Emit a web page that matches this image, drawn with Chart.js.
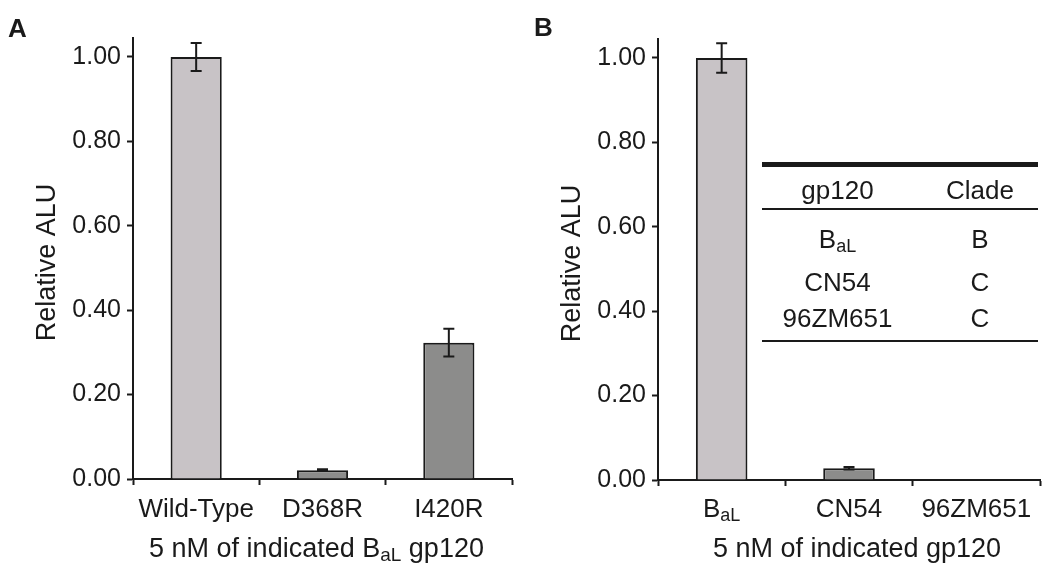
<!DOCTYPE html>
<html><head><meta charset="utf-8">
<script src="https://cdn.jsdelivr.net/npm/chart.js@4.4.0/dist/chart.umd.min.js"></script>
<style>
html,body{margin:0;padding:0;background:#fff;}
#wrap{position:relative;width:1050px;height:575px;font-family:"Liberation Sans",Arial,sans-serif;color:#1a1a1a;overflow:hidden;}
.cv{position:absolute;top:0;width:525px;height:575px;}
.letter{position:absolute;font-weight:bold;font-size:26px;line-height:30px;}
.tline{position:absolute;background:#1a1a1a;}
.tcell{position:absolute;width:170px;text-align:center;font-size:26px;line-height:30px;white-space:nowrap;}
.sub{font-size:18px;position:relative;top:4px;}
</style></head><body>
<div id="wrap">
  <div class="cv" style="left:0"><canvas id="cA" width="525" height="575"></canvas></div>
  <div class="cv" style="left:525px"><canvas id="cB" width="525" height="575"></canvas></div>
  <div class="letter" style="left:8px;top:13px;">A</div>
  <div class="letter" style="left:534px;top:12px;">B</div>
  <div id="table"></div>
</div>
<script>
// ---------- data ----------
const categoriesA = ['Wild-Type', 'D368R', 'I420R'];
const valuesA = [1.00, 0.021, 0.323];
const errorsA = [0.033, 0.002, 0.033];
const xTitleA = '5 nM of indicated B_{aL} gp120';

const categoriesB = ['B_{aL}', 'CN54', '96ZM651'];
const valuesB = [1.00, 0.028, 0];
const errorsB = [0.035, 0.003, 0];
const xTitleB = '5 nM of indicated gp120';

const yTitle = 'Relative ALU';
const yTicks = [0, 0.2, 0.4, 0.6, 0.8, 1.0];
const yMax = 1.045;

const tableHeader = ['gp120', 'Clade'];
const tableRows = [['B_{aL}', 'B'], ['CN54', 'C'], ['96ZM651', 'C']];

// ---------- styles ----------
const FONT = '"Liberation Sans", Arial, sans-serif';
const TEXT = '#1a1a1a';
const LIGHT = '#c8c3c6';
const DARK = '#8c8c8b';

function parseRich(s) {
  const parts = []; const re = /_\{([^}]*)\}/g; let last = 0, m;
  while ((m = re.exec(s))) {
    if (m.index > last) parts.push({t: s.slice(last, m.index)});
    parts.push({t: m[1], sub: true});
    last = re.lastIndex;
  }
  if (last < s.length) parts.push({t: s.slice(last)});
  return parts;
}
function richHTML(s) {
  return parseRich(s).map(p => p.sub ? '<span class="sub">' + p.t + '</span>' : p.t).join('');
}
function drawRich(ctx, s, cx, y, size) {
  const parts = parseRich(s);
  const subSize = Math.round(size * 0.69);
  let w = 0;
  parts.forEach(p => { ctx.font = (p.sub ? subSize : size) + 'px ' + FONT; p.w = ctx.measureText(p.t).width; w += p.w; });
  let x = cx - w / 2;
  ctx.textAlign = 'left'; ctx.textBaseline = 'alphabetic';
  parts.forEach(p => {
    ctx.font = (p.sub ? subSize : size) + 'px ' + FONT;
    ctx.fillText(p.t, x, y + (p.sub ? 4 : 0));
    x += p.w;
  });
}

const textPlugin = {
  id: 'textPlugin',
  afterDraw(chart, args, o) {
    const {ctx, chartArea, scales: {x}} = chart;
    ctx.save();
    ctx.fillStyle = TEXT;
    o.categories.forEach((c, i) => drawRich(ctx, c, x.getPixelForValue(i), o.tickBaseline, 26));
    drawRich(ctx, o.xTitle, (chartArea.left + chartArea.right) / 2 + o.xTitleShift, o.titleBaseline, 27);
    ctx.translate(55, (chartArea.top + chartArea.bottom) / 2 + 4);
    ctx.rotate(-Math.PI / 2);
    ctx.font = '27px ' + FONT; ctx.textAlign = 'center'; ctx.textBaseline = 'alphabetic';
    ctx.fillText(yTitle, 0, 0);
    ctx.restore();
  }
};

const errorPlugin = {
  id: 'errorPlugin',
  afterDatasetsDraw(chart, args, o) {
    const {ctx, scales: {y}} = chart;
    const meta = chart.getDatasetMeta(0);
    ctx.save();
    ctx.strokeStyle = TEXT; ctx.lineWidth = 2;
    o.values.forEach((v, i) => {
      const e = o.errors[i];
      if (!e) return;
      const cx = meta.data[i].x;
      const yt = y.getPixelForValue(v + e), yb = y.getPixelForValue(v - e);
      ctx.beginPath();
      ctx.moveTo(cx, yt); ctx.lineTo(cx, yb);
      ctx.moveTo(cx - 5.5, yt); ctx.lineTo(cx + 5.5, yt);
      ctx.moveTo(cx - 5.5, yb); ctx.lineTo(cx + 5.5, yb);
      ctx.stroke();
    });
    ctx.restore();
  }
};

function makeChart(id, cats, vals, errs, xTitle, pad, xTitleShift) {
  return new Chart(document.getElementById(id), {
    type: 'bar',
    data: {
      labels: cats,
      datasets: [{
        data: vals,
        backgroundColor: [LIGHT, DARK, DARK],
        borderColor: TEXT,
        borderWidth: 2,
        barPercentage: 0.405,
        categoryPercentage: 1.0
      }]
    },
    options: {
      responsive: false,
      animation: false,
      events: [],
      layout: {padding: {top: pad.top, right: pad.right, left: 0, bottom: 0}},
      plugins: {
        legend: {display: false},
        tooltip: {enabled: false},
        textPlugin: {categories: cats, xTitle: xTitle, tickBaseline: 517, titleBaseline: 557, xTitleShift: xTitleShift},
        errorPlugin: {values: vals, errors: errs}
      },
      scales: {
        x: {
          type: 'category',
          offset: true,
          grid: {offset: true, drawOnChartArea: false, drawTicks: true, tickLength: 6, tickColor: TEXT, tickWidth: 2},
          border: {display: true, color: TEXT, width: 2},
          ticks: {display: false},
          afterFit(s) { s.height = 575 - pad.bottomY; }
        },
        y: {
          min: 0, max: yMax,
          grid: {drawOnChartArea: false, drawTicks: true, tickLength: 6, tickColor: TEXT, tickWidth: 2},
          border: {display: true, color: TEXT, width: 2},
          afterBuildTicks(s) { s.ticks = yTicks.map(v => ({value: v})); },
          ticks: {
            color: TEXT, padding: 6,
            font: {family: FONT, size: 25},
            callback: v => Number(v).toFixed(2)
          },
          afterFit(s) { s.width = 133; }
        }
      }
    },
    plugins: [textPlugin, errorPlugin]
  });
}

makeChart('cA', categoriesA, valuesA, errorsA, xTitleA, {top: 38, right: 13, bottomY: 479}, -6);
makeChart('cB', categoriesB, valuesB, errorsB, xTitleB, {top: 39, right: 10, bottomY: 480}, 8);

// ---------- inset table ----------
(function () {
  const t = document.getElementById('table');
  const c1 = 837.5, c2 = 980;
  const lines = [[162, 4.5], [208, 2.2], [339.5, 2.5]];
  lines.forEach(([top, h]) => {
    const d = document.createElement('div'); d.className = 'tline';
    d.style.left = '762px'; d.style.width = '276px'; d.style.top = top + 'px'; d.style.height = h + 'px';
    t.appendChild(d);
  });
  const rowTops = [175, 223.5, 267, 303];
  const rows = [tableHeader].concat(tableRows);
  rows.forEach((r, i) => {
    [c1, c2].forEach((cx, j) => {
      const d = document.createElement('div'); d.className = 'tcell';
      d.style.left = (cx - 85) + 'px'; d.style.top = rowTops[i] + 'px';
      d.innerHTML = richHTML(r[j]);
      t.appendChild(d);
    });
  });
})();
</script>
</body></html>
